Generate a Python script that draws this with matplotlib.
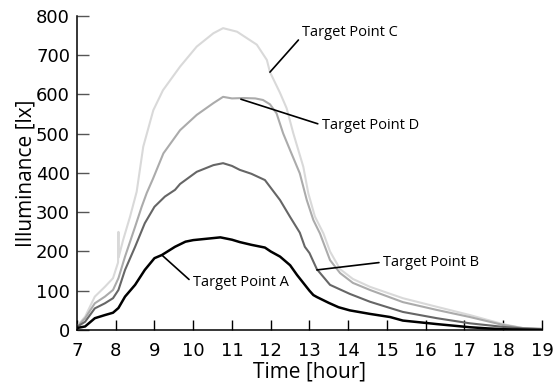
import matplotlib.pyplot as plt

# hora do dia / iluminância (lx)
t_a = [7.0, 7.21, 7.46, 7.72, 7.93, 8.07, 8.24, 8.5, 8.75, 9.0, 9.19, 9.53, 9.8,
       10.0, 10.3, 10.7, 11.0, 11.2, 11.5, 11.85, 12.0, 12.24, 12.5, 12.68, 13.0,
       13.1, 13.19, 13.5, 13.75, 14.04, 14.56, 15.08, 15.41, 16.0, 16.29, 17.14,
       17.6, 18.0, 18.5, 19.0]
lux_a = [5, 9, 30, 38, 44, 56, 85, 115, 153, 183, 191, 212, 225,
         229, 232, 236, 230, 224, 217, 210, 200, 187, 165, 140, 100,
         89, 84, 69, 58, 50, 41, 33, 24, 18, 15, 7,
         4, 2, 1, 0]

t_b = [7.0, 7.21, 7.46, 7.72, 7.93, 8.07, 8.24, 8.5, 8.75, 9.0, 9.27, 9.53, 9.66,
       10.09, 10.52, 10.77, 11.0, 11.2, 11.5, 11.85, 11.98, 12.24, 12.5, 12.75,
       12.88, 13.0, 13.19, 13.53, 14.04, 14.56, 15.08, 15.41, 16.29, 17.14, 17.99,
       18.5, 19.0]
lux_b = [8, 21, 55, 68, 81, 102, 153, 212, 272, 314, 340, 357, 372,
         403, 420, 425, 418, 408, 398, 382, 365, 331, 288, 248,
         212, 196, 155, 115, 92, 72, 56, 46, 30, 17, 8,
         4, 2]

t_c = [7.0, 7.21, 7.46, 7.72, 7.93, 8.06, 8.07, 8.075, 8.19, 8.37, 8.54, 8.71,
       8.97, 9.22, 9.66, 10.09, 10.52, 10.77, 11.13, 11.64, 11.9, 11.98, 12.24,
       12.41, 12.58, 12.84, 12.97, 13.14, 13.36, 13.53, 13.79, 14.12, 14.56, 15.41,
       16.29, 17.14, 17.99, 18.5, 19.0]
lux_c = [10, 34, 85, 110, 132, 172, 250, 185, 229, 289, 352, 467,
         560, 611, 671, 722, 756, 769, 760, 727, 688, 657, 604,
         565, 502, 416, 348, 289, 246, 200, 155, 130, 110, 81,
         59, 38, 15, 5, 3]

t_d = [7.0, 7.21, 7.46, 7.72, 7.93, 8.07, 8.24, 8.5, 8.67, 8.8, 8.96, 9.23, 9.66,
       10.09, 10.52, 10.77, 11.0, 11.3, 11.6, 11.8, 11.98, 12.15, 12.32, 12.5,
       12.75, 12.93, 13.1, 13.27, 13.53, 13.79, 14.12, 14.56, 15.41, 16.29, 17.14,
       17.99, 18.5, 19.0]
lux_d = [8, 30, 68, 85, 102, 132, 187, 263, 314, 349, 385, 450, 509,
         548, 578, 594, 590, 591, 590, 586, 575, 552, 501, 458,
         399, 331, 280, 246, 178, 145, 120, 102, 71, 51, 33,
         13, 5, 3]

horas = list(range(7, 20))
niveis = list(range(0, 900, 100))

fig = plt.figure(figsize=(5.53, 3.88), dpi=100)
ax = fig.add_axes([0.1392, 0.1495, 0.8409, 0.8093])

ax.plot(t_c, lux_c, color="#d9d9d9", lw=1.5)
ax.plot(t_d, lux_d, color="#ababab", lw=1.5)
ax.plot(t_b, lux_b, color="#666666", lw=1.5)
ax.plot(t_a, lux_a, color="black", lw=1.8)

# rótulos dos pontos
rotulos = [
    ("Target Point C", (11.98, 657), (12.81, 759), (0, 0.25)),
    ("Target Point D", (11.23, 588), (13.32, 522), (0, 0.5)),
    ("Target Point B", (13.19, 153), (14.90, 173), (0, 0.5)),
    ("Target Point A", (9.19, 191), (9.99, 120), (0, 0.5)),
]
for txt, xy, xyt, rp in rotulos:
    ax.annotate(txt, xy=xy, xytext=xyt, ha="left", va="center",
                fontsize=10.5, family="Open Sans",
                arrowprops=dict(arrowstyle="-", color="black", lw=1.2,
                                shrinkA=1, shrinkB=0, relpos=rp))

ax.set_xlim(7, 19)
ax.set_ylim(0, 800)
ax.set_xticks(horas)
ax.set_yticks(niveis)

ax.spines["top"].set_visible(False)
ax.spines["right"].set_visible(False)
ax.spines["left"].set_linewidth(1.1)
ax.spines["bottom"].set_linewidth(1.1)

ax.tick_params(axis="x", direction="in", length=7, width=1, pad=9, labelsize=13)
ax.tick_params(axis="y", direction="in", length=8.5, width=1, pad=5, labelsize=13,
               color="#555555")

ax.set_xlabel("Time [hour]", fontsize=15, family="Open Sans", labelpad=1)
ax.set_ylabel("Illuminance [lx]", fontsize=15, family="Open Sans", labelpad=0)

plt.savefig("out.png", dpi=100)
